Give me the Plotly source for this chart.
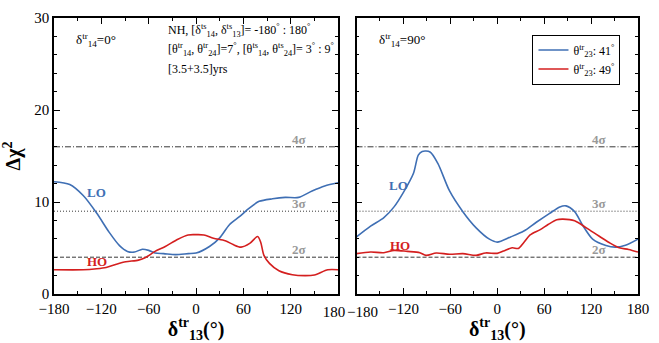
import plotly.graph_objects as go
from plotly.subplots import make_subplots

# delta13 (true) grid and Delta chi^2 curves, delta14(true) = 0 deg
d13_lo_a = [-180, -160, -143, -126, -110, -97, -87, -78, -68, -60, -52, -41, -26, -10, 0,
            17, 30, 42, 55, 67, 80, 97, 113, 130, 147, 163, 180]
chi_lo_a = [12.2, 11.9, 10.7, 8.8, 6.7, 5.26, 4.63, 4.56, 4.87, 4.74, 4.46, 4.39, 4.28, 4.39, 4.45,
            5.16, 6.1, 7.5, 8.4, 9.3, 10.07, 10.35, 10.5, 10.5, 11.2, 11.75, 12.1]

d13_ho_a = [-180, -143, -126, -114, -101, -89, -73, -64, -52, -39, -23, -10, 0, 10, 22, 37, 47,
            57, 68, 78, 82, 86, 93, 105, 122, 138, 150, 167, 180]
chi_ho_a = [2.63, 2.63, 2.74, 2.88, 3.23, 3.5, 3.68, 3.96, 4.63, 5.16, 5.96, 6.42, 6.45, 6.42, 6.07,
            5.79, 5.37, 5.09, 5.5, 6.25, 5.6, 4.2, 3.33, 2.53, 2.1, 2.0, 2.07, 2.63, 2.63]

# delta14 (true) = 90 deg
d13_lo_b = [-180, -162, -145, -132, -120, -107, -101, -96, -86, -76, -61, -44, -27, -10, 0,
            17, 34, 50, 67, 80, 88, 99, 109, 122, 139, 151, 164, 180]
chi_lo_b = [6.2, 7.37, 8.3, 9.47, 11.05, 13.16, 15.1, 15.5, 15.44, 14.2, 11.2, 8.95, 7.19, 5.96, 5.64,
            6.2, 6.84, 7.8, 8.77, 9.47, 9.58, 8.95, 7.5, 5.96, 5.26, 5.09, 5.3, 5.96]

d13_ho_b = [-180, -162, -145, -132, -115, -99, -91, -78, -61, -44, -27, -15, 0, 8, 19, 27, 34,
            42, 55, 65, 76, 84, 99, 114, 130, 143, 156, 168, 180]
chi_ho_b = [4.39, 4.56, 4.49, 4.74, 4.63, 4.49, 4.2, 4.46, 4.32, 4.39, 4.2, 4.46, 4.42, 4.67, 5.02,
            4.95, 5.6, 6.42, 7.0, 7.55, 8.07, 8.14, 7.96, 7.19, 6.3, 5.6, 5.02, 4.84, 4.56]

# confidence levels
sigma_vals = [4, 9, 16]
sigma_text = ["2σ", "3σ", "4σ"]
sigma_dash = ["4px,2px", "1px,2px", "6px,2px,1px,2px"]

x_ticks = [-180, -120, -60, 0, 60, 120, 180]
x_tick_text_left = ["−180", "−120", "−60", "0", "60", "120", ""]
x_tick_text_right = ["", "−120", "−60", "0", "60", "120", "180"]
y_ticks = [0, 10, 20, 30]

info_lines = [
    "NH, [δ<sup>ts</sup><sub>14</sub>, δ<sup>ts</sup><sub>13</sub>]= -180<sup>°</sup> : 180<sup>°</sup>",
    "[θ<sup>tr</sup><sub>14</sub>, θ<sup>tr</sup><sub>24</sub>]=7<sup>°</sup>, "
    "[θ<sup>ts</sup><sub>14</sub>, θ<sup>ts</sup><sub>24</sub>]= 3<sup>°</sup> : 9<sup>°</sup>",
    "[3.5+3.5]yrs",
]
info_y = [28.6, 26.6, 24.5]

BLUE = "#3f6fb4"
RED = "#d41f1f"
SERIF = '"Liberation Serif", serif'

fig = make_subplots(rows=1, cols=2, horizontal_spacing=0.032)

panels = [
    (d13_lo_a, chi_lo_a, d13_ho_a, chi_ho_a),
    (d13_lo_b, chi_lo_b, d13_ho_b, chi_ho_b),
]
for i, (xl, yl, xh, yh) in enumerate(panels, start=1):
    for s, d in zip(sigma_vals, sigma_dash):
        fig.add_trace(go.Scatter(x=[-180, 180], y=[s, s], mode="lines",
                                 line=dict(color="#222222", width=0.9, dash=d),
                                 showlegend=False, hoverinfo="skip"), row=1, col=i)
    fig.add_trace(go.Scatter(x=xl, y=yl, mode="lines", line_shape="spline",
                             line=dict(color=BLUE, width=1.6, smoothing=0.8),
                             name="θ<sup>tr</sup><sub>23</sub>: 41<sup>°</sup>",
                             showlegend=(i == 2)), row=1, col=i)
    fig.add_trace(go.Scatter(x=xh, y=yh, mode="lines", line_shape="spline",
                             line=dict(color=RED, width=1.6, smoothing=0.8),
                             name="θ<sup>tr</sup><sub>23</sub>: 49<sup>°</sup>",
                             showlegend=(i == 2)), row=1, col=i)

axis_common = dict(showline=True, linecolor="black", linewidth=1.5, mirror="ticks",
                   ticks="inside", ticklen=6, tickwidth=1, tickcolor="black",
                   showgrid=False, zeroline=False,
                   tickfont=dict(family=SERIF, size=15, color="black"))

for i, ttext in ((1, x_tick_text_left), (2, x_tick_text_right)):
    fig.update_xaxes(range=[-180, 180], tickvals=x_ticks, ticktext=ttext,
                     minor=dict(ticks="inside", ticklen=3, tickcolor="black", dtick=30,
                                tick0=-180, showgrid=False),
                     title=dict(text="<b>δ<sup>tr</sup><sub>13</sub>(°)</b>",
                                font=dict(family=SERIF, size=20, color="black"), standoff=2),
                     row=1, col=i, **axis_common)
    fig.update_yaxes(range=[0, 30], tickvals=y_ticks, showticklabels=(i == 1),
                     minor=dict(ticks="inside", ticklen=3, tickcolor="black", dtick=2,
                                tick0=0, showgrid=False),
                     row=1, col=i, **axis_common)

fig.update_yaxes(title=dict(text="<b>Δχ<sup>2</sup></b>",
                            font=dict(family=SERIF, size=20, color="black"), standoff=8),
                 row=1, col=1)

# the two labels where the panels meet sit on overlay axes, nudged apart
end_label_axis = dict(range=[-180, 180], showline=False, ticks="", showgrid=False,
                      zeroline=False, side="bottom", ticklabelstandoff=7,
                      tickfont=dict(family=SERIF, size=15, color="black"))
fig.update_layout(
    xaxis3=dict(overlaying="x", anchor="y", tickvals=[180], ticktext=["180"],
                ticklabelshift=-4, **end_label_axis),
    xaxis4=dict(overlaying="x2", anchor="y2", tickvals=[-180], ticktext=["−180"],
                ticklabelshift=6, **end_label_axis),
)
fig.add_trace(go.Scatter(x=[None], y=[None], xaxis="x3", yaxis="y", mode="lines",
                         showlegend=False, hoverinfo="skip"))
fig.add_trace(go.Scatter(x=[None], y=[None], xaxis="x4", yaxis="y2", mode="lines",
                         showlegend=False, hoverinfo="skip"))

ann = []
for xr, yr in (("x", "y"), ("x2", "y2")):
    for s, t in zip(sigma_vals, sigma_text):
        ann.append(dict(x=130, y=s, xref=xr, yref=yr, text=f"<b>{t}</b>", showarrow=False,
                        yanchor="bottom", yshift=-2,
                        font=dict(family=SERIF, size=13, color="#999999")))

for line, yv in zip(info_lines, info_y):
    ann.append(dict(x=-38, y=yv, xref="x", yref="y", xanchor="left", yanchor="middle",
                    text=line, showarrow=False,
                    font=dict(family=SERIF, size=12, color="black")))

ann += [
    dict(x=-126, y=11.0, xref="x", yref="y", text="<b>LO</b>", showarrow=False,
         font=dict(family=SERIF, size=13, color=BLUE)),
    dict(x=-126, y=3.5, xref="x", yref="y", text="<b>HO</b>", showarrow=False,
         font=dict(family=SERIF, size=13, color=RED)),
    dict(x=-126, y=11.8, xref="x2", yref="y2", text="<b>LO</b>", showarrow=False,
         font=dict(family=SERIF, size=13, color=BLUE)),
    dict(x=-125, y=5.3, xref="x2", yref="y2", text="<b>HO</b>", showarrow=False,
         font=dict(family=SERIF, size=13, color=RED)),
    dict(x=-155, y=27.6, xref="x", yref="y", xanchor="left",
         text="δ<sup>tr</sup><sub>14</sub>=0°", showarrow=False,
         font=dict(family=SERIF, size=13, color="black")),
    dict(x=-154, y=27.6, xref="x2", yref="y2", xanchor="left",
         text="δ<sup>tr</sup><sub>14</sub>=90°", showarrow=False,
         font=dict(family=SERIF, size=13, color="black")),
]

fig.update_layout(
    width=659, height=343,
    margin=dict(l=54, r=13, t=10, b=48),
    plot_bgcolor="white", paper_bgcolor="white",
    annotations=ann,
    legend=dict(x=0.97, y=0.94, xanchor="right", yanchor="top",
                bordercolor="black", borderwidth=1, bgcolor="white",
                font=dict(family=SERIF, size=12, color="black"),
                tracegroupgap=0, itemwidth=30),
)
fig.layout.xaxis.domain = [0.0, 0.4865]
fig.layout.xaxis2.domain = [0.518, 1.0]

fig.write_html("out.html")
